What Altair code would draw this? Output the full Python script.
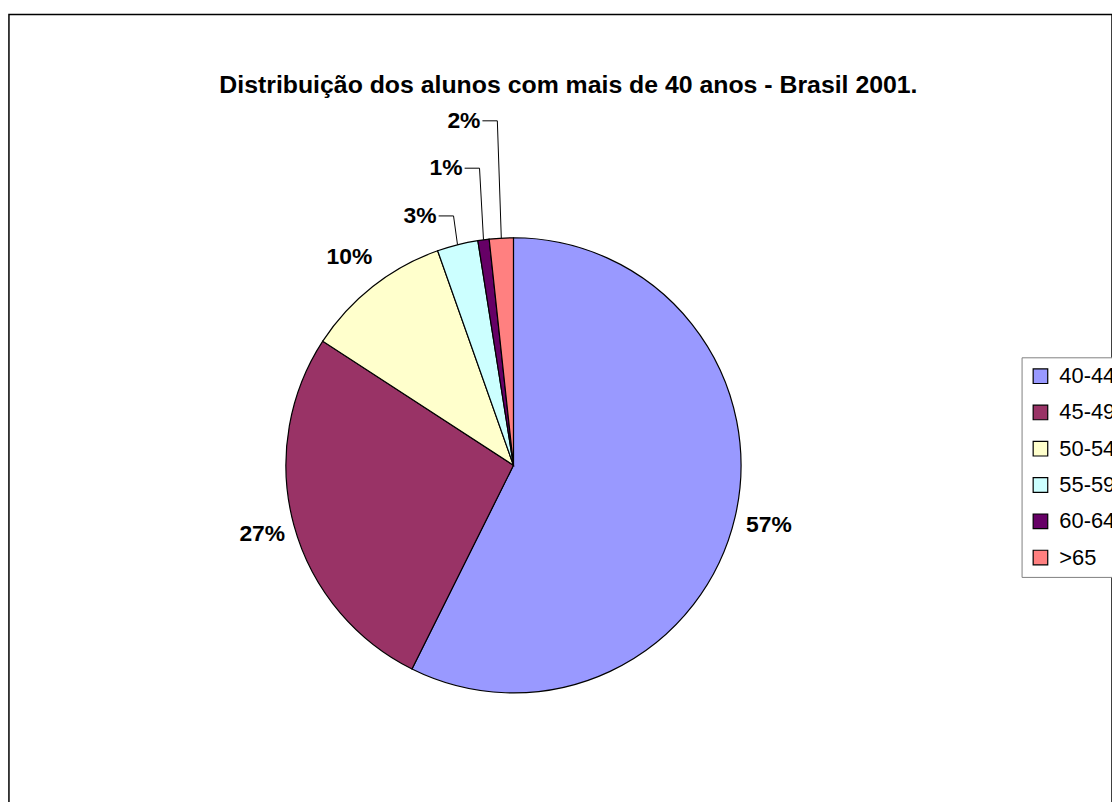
import math
import altair as alt
import pandas as pd

TITLE = "Distribuição dos alunos com mais de 40 anos - Brasil 2001."
CATEGORIES = ["40-44", "45-49", "50-54", "55-59", "60-64", ">65"]
VALUES = [57.3, 26.8, 10.4, 2.9, 0.8, 1.7]
COLORS = ["#9999FF", "#993366", "#FFFFCC", "#CCFFFF", "#660066", "#FF8080"]

# label placement (style only): radius of centred labels, or rise of leader line
LABEL_RADIUS = [264, 262, 267, None, None, None]
LEADER_RISE = [None, None, None, 29, 72, 118]

FONT = "Liberation Sans"
W, H = 1110, 800
CX, CY = 507.7, 453.7
R = 229

total = sum(VALUES)
pie_df = pd.DataFrame({
    "category": CATEGORIES,
    "value": VALUES,
    "idx": list(range(len(VALUES))),
})

center_rows, right_rows, leader_rows = [], [], []
cum = 0.0
for i, (c, v) in enumerate(zip(CATEGORIES, VALUES)):
    mid = (cum + v / 2) / total * 2 * math.pi
    cum += v
    pct = f"{round(v / total * 100)}%"
    if LEADER_RISE[i] is not None:
        ex, ey = R * math.sin(mid), R * math.cos(mid)
        bx, by = ex - 4, ey + LEADER_RISE[i]
        right_rows.append({"x": bx - 17, "y": by, "label": pct})
        leader_rows += [
            {"x": bx - 15, "y": by, "k": c, "o": 0},
            {"x": bx, "y": by, "k": c, "o": 1},
            {"x": ex, "y": ey, "k": c, "o": 2},
        ]
    else:
        lr = LABEL_RADIUS[i]
        center_rows.append({"x": lr * math.sin(mid), "y": lr * math.cos(mid), "label": pct})

xs = alt.Scale(domain=[-CX, W - CX], nice=False, zero=False)
ys = alt.Scale(domain=[-(H - CY), CY], nice=False, zero=False)

pie = alt.Chart(pie_df).mark_arc(outerRadius=R, stroke="black", strokeWidth=1.2).encode(
    theta=alt.Theta("value:Q", stack=True),
    color=alt.Color(
        "category:N",
        scale=alt.Scale(domain=CATEGORIES, range=COLORS),
        sort=CATEGORIES,
        legend=alt.Legend(
            title=None, orient="none", legendX=1019, legendY=345,
            symbolType="square", symbolSize=215, symbolStrokeColor="black",
            symbolStrokeWidth=1.2, labelFontSize=22, labelFont=FONT, labelColor="black",
            rowPadding=14.5, padding=8, strokeColor="#808080", fillColor="white",
            labelOffset=8,
        ),
    ),
    order=alt.Order("idx:Q"),
    x=alt.value(CX),
    y=alt.value(CY),
)

txt_c = alt.Chart(pd.DataFrame(center_rows)).mark_text(
    font=FONT, fontSize=23, fontWeight="bold", color="black", align="center", baseline="middle"
).encode(
    x=alt.X("x:Q", scale=xs, axis=None),
    y=alt.Y("y:Q", scale=ys, axis=None),
    text="label:N",
)

txt_r = alt.Chart(pd.DataFrame(right_rows)).mark_text(
    font=FONT, fontSize=23, fontWeight="bold", color="black", align="right", baseline="middle"
).encode(
    x=alt.X("x:Q", scale=xs, axis=None),
    y=alt.Y("y:Q", scale=ys, axis=None),
    text="label:N",
)

leaders = alt.Chart(pd.DataFrame(leader_rows)).mark_line(color="black", strokeWidth=1).encode(
    x=alt.X("x:Q", scale=xs, axis=None),
    y=alt.Y("y:Q", scale=ys, axis=None),
    detail="k:N",
    order="o:Q",
)

chart = alt.layer(pie, leaders, txt_c, txt_r).properties(
    width=W, height=H,
    autosize=alt.AutoSizeParams(type="none"),
    padding={"left": 9, "top": 12, "right": 0, "bottom": 0},
    title=alt.TitleParams(
        TITLE, anchor="middle", font=FONT, fontSize=25, fontWeight="bold", color="black",
        offset=0, baseline="alphabetic", dy=104, dx=8,
    ),
).configure_view(stroke="black", strokeWidth=1.5)

chart.save("out.html", embed_options={"renderer": "svg", "actions": False})
